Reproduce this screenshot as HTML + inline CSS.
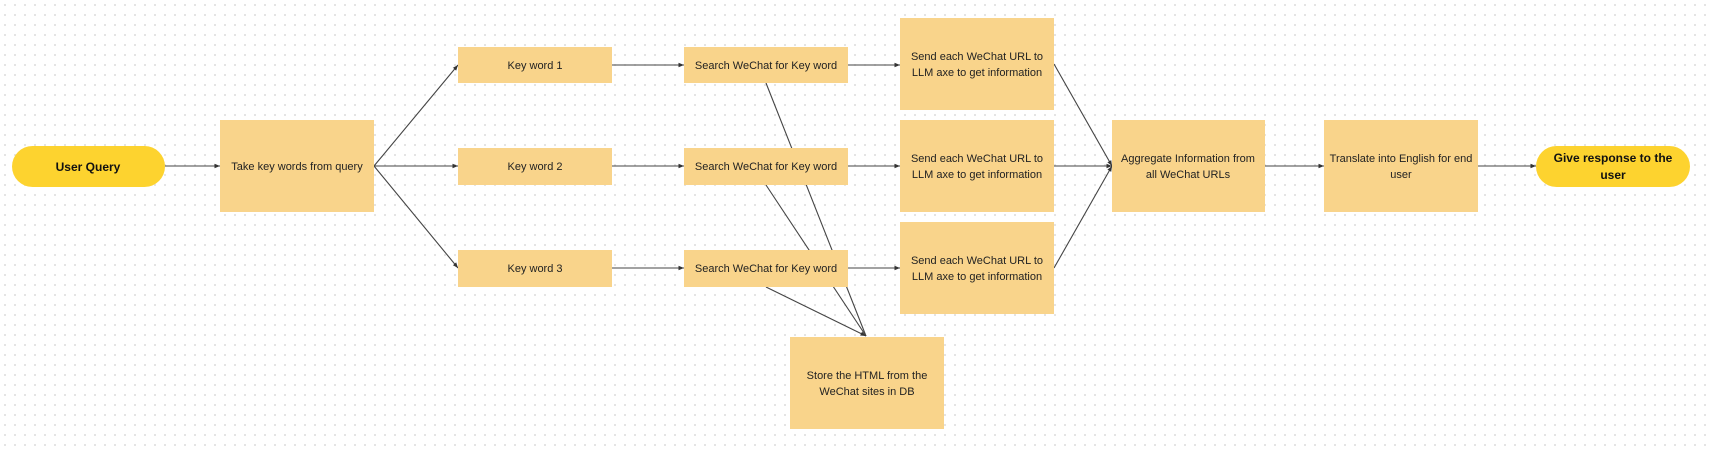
<!DOCTYPE html>
<html><head><meta charset="utf-8"><style>
html,body{margin:0;padding:0;}
body{width:1709px;height:452px;overflow:hidden;background-color:#fff;
background-image:radial-gradient(circle,#dcdcdc 0.8px,transparent 1.1px);background-size:10px 10px;
font-family:"Liberation Sans",sans-serif;}
svg{position:absolute;left:0;top:0;}
</style></head><body>
<svg width="1709" height="452" viewBox="0 0 1709 452">
<defs><marker id="a" markerWidth="6" markerHeight="6" refX="5" refY="3" orient="auto"><path d="M0,1 L5,3 L0,5z" fill="#333"/></marker></defs>
<g stroke="#444" stroke-width="1.1" fill="none">
<line x1="766" y1="83" x2="866" y2="336"/>
<line x1="766" y1="185" x2="866" y2="336"/>
<line x1="766" y1="287" x2="866" y2="336" marker-end="url(#a)"/>
<line x1="165" y1="166" x2="220" y2="166" marker-end="url(#a)"/>
<line x1="374" y1="166" x2="458" y2="65" marker-end="url(#a)"/>
<line x1="374" y1="166" x2="458" y2="166" marker-end="url(#a)"/>
<line x1="374" y1="166" x2="458" y2="268" marker-end="url(#a)"/>
<line x1="612" y1="65" x2="684" y2="65" marker-end="url(#a)"/>
<line x1="612" y1="166" x2="684" y2="166" marker-end="url(#a)"/>
<line x1="612" y1="268" x2="684" y2="268" marker-end="url(#a)"/>
<line x1="848" y1="65" x2="900" y2="65" marker-end="url(#a)"/>
<line x1="848" y1="166" x2="900" y2="166" marker-end="url(#a)"/>
<line x1="848" y1="268" x2="900" y2="268" marker-end="url(#a)"/>
<line x1="1054" y1="64" x2="1112" y2="166" marker-end="url(#a)"/>
<line x1="1054" y1="166" x2="1112" y2="166" marker-end="url(#a)"/>
<line x1="1054" y1="268" x2="1112" y2="166" marker-end="url(#a)"/>
<line x1="1265" y1="166" x2="1324" y2="166" marker-end="url(#a)"/>
<line x1="1478" y1="166" x2="1536" y2="166" marker-end="url(#a)"/>
</g>
<g fill="#f9d48b">
<rect x="220" y="120" width="154" height="92"/>
<rect x="458" y="47" width="154" height="36"/>
<rect x="458" y="148" width="154" height="37"/>
<rect x="458" y="250" width="154" height="37"/>
<rect x="684" y="47" width="164" height="36"/>
<rect x="684" y="148" width="164" height="37"/>
<rect x="684" y="250" width="164" height="37"/>
<rect x="900" y="18" width="154" height="92"/>
<rect x="900" y="120" width="154" height="92"/>
<rect x="900" y="222" width="154" height="92"/>
<rect x="790" y="337" width="154" height="92"/>
<rect x="1112" y="120" width="153" height="92"/>
<rect x="1324" y="120" width="154" height="92"/>
</g>
<g fill="#fdd32f">
<rect x="12" y="146" width="153" height="41" rx="20.5"/>
<rect x="1536" y="146" width="154" height="41" rx="20.5"/>
</g>
<g font-size="11" fill="#222" text-anchor="middle" font-family="Liberation Sans, sans-serif">
<text x="297" y="170">Take key words from query</text>
<text x="535" y="69">Key word 1</text>
<text x="535" y="170">Key word 2</text>
<text x="535" y="272">Key word 3</text>
<text x="766" y="69">Search WeChat for Key word</text>
<text x="766" y="170">Search WeChat for Key word</text>
<text x="766" y="272">Search WeChat for Key word</text>
<text x="977" y="60">Send each WeChat URL to</text><text x="977" y="76">LLM axe to get information</text>
<text x="977" y="162">Send each WeChat URL to</text><text x="977" y="178">LLM axe to get information</text>
<text x="977" y="264">Send each WeChat URL to</text><text x="977" y="280">LLM axe to get information</text>
<text x="867" y="379">Store the HTML from the</text><text x="867" y="395">WeChat sites in DB</text>
<text x="1188" y="162">Aggregate Information from</text><text x="1188" y="178">all WeChat URLs</text>
<text x="1401" y="162">Translate into English for end</text><text x="1401" y="178">user</text>
</g>
<g font-size="12" font-weight="bold" fill="#111" text-anchor="middle" font-family="Liberation Sans, sans-serif">
<text x="88" y="171">User Query</text>
<text x="1613" y="162">Give response to the</text><text x="1613" y="179">user</text>
</g>
</svg>
</body></html>
